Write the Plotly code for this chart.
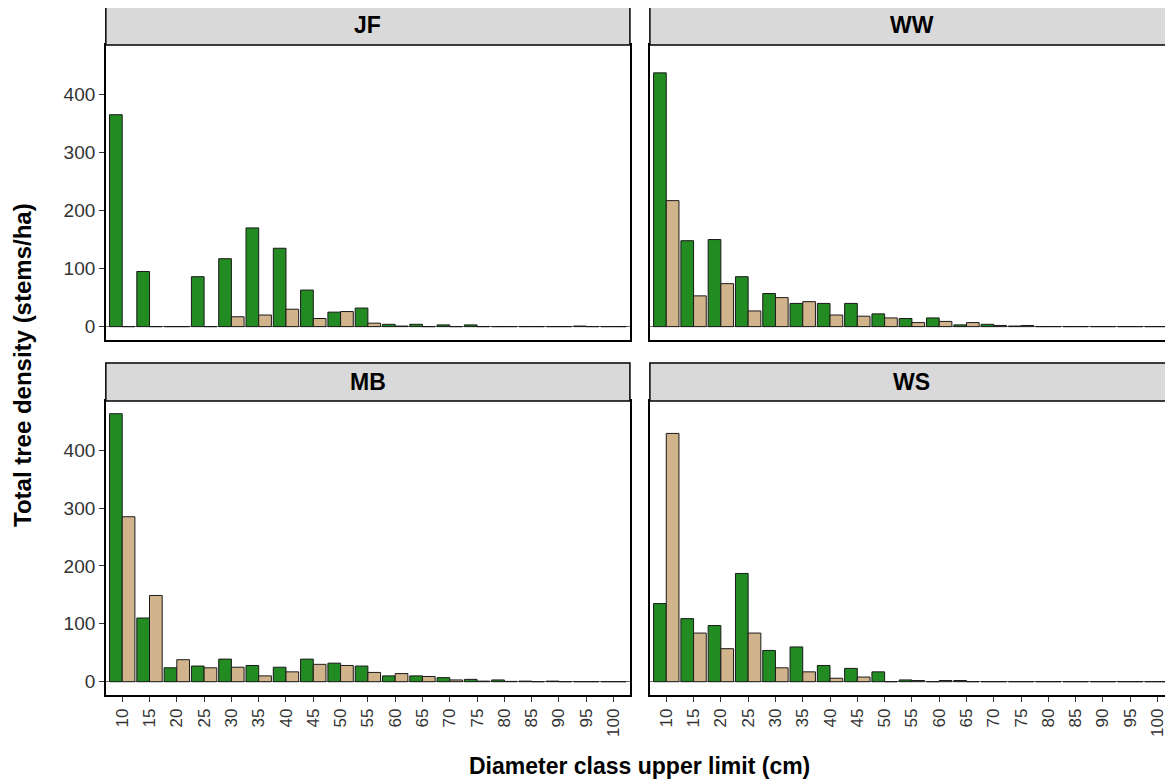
import plotly.graph_objects as go

# ---- data ----
classes = ["10", "15", "20", "25", "30", "35", "40", "45", "50", "55",
           "60", "65", "70", "75", "80", "85", "90", "95", "100"]
panels = ["JF", "WW", "MB", "WS"]

JF_green = [365, 95, 0, 86, 117, 170, 135, 63, 25, 32, 4, 4, 3, 3, 0, 0, 0, 1, 0]
JF_tan = [0, 0, 0, 0, 17, 20, 30, 14, 26, 6, 1, 0, 0, 0, 0, 0, 0, 0, 0]
WW_green = [437, 148, 150, 86, 57, 40, 40, 40, 22, 14, 15, 3, 4, 1, 0, 0, 0, 0, 0]
WW_tan = [217, 53, 74, 27, 50, 43, 20, 18, 15, 7, 9, 7, 2, 2, 0, 0, 0, 0, 0]
MB_green = [463, 110, 24, 27, 39, 28, 25, 39, 32, 27, 10, 10, 7, 4, 3, 1, 1, 0, 0]
MB_tan = [285, 149, 38, 24, 25, 10, 17, 30, 28, 16, 14, 9, 3, 1, 0.5, 0, 0, 0, 0]
WS_green = [135, 109, 97, 187, 54, 60, 28, 23, 17, 3, 0, 2, 0, 0, 0, 0, 0, 0, 0]
WS_tan = [429, 84, 57, 84, 24, 17, 6, 8, 0, 2, 2, 0, 0, 0, 0, 0, 0, 0, 0]

y_ticks = [0, 100, 200, 300, 400]
x_title = "Diameter class upper limit (cm)"
y_title = "Total tree density (stems/ha)"

series = {
    "JF": (JF_green, JF_tan),
    "WW": (WW_green, WW_tan),
    "MB": (MB_green, MB_tan),
    "WS": (WS_green, WS_tan),
}

GREEN = "#228B22"
TAN = "#D2B48C"
FONT = "Liberation Sans, Arial, sans-serif"
OFF = 8                      # page body margin
W, H = 1173 - OFF, 782 - OFF

# panel geometry in window pixels
col_x = [(106, 631), (651, 1173)]
row_y = [(45, 340), (401, 695)]     # plot area top/bottom
strip_y = [(6, 45), (363, 401)]

def px_x(v):
    return (v - OFF) / W

def px_y(v):
    return 1 - (v - OFF) / H

fig = go.Figure()
shapes = []
annotations = []

for k, name in enumerate(panels):
    r, c = divmod(k, 2)
    ax = "" if k == 0 else str(k + 1)
    g, t = series[name]
    fig.add_trace(go.Bar(x=classes, y=g, name="Series 1", marker=dict(color=GREEN, line=dict(color="#1a1a1a", width=1)),
                         xaxis="x" + ax, yaxis="y" + ax, showlegend=False))
    fig.add_trace(go.Bar(x=classes, y=t, name="Series 2", marker=dict(color=TAN, line=dict(color="#1a1a1a", width=1)),
                         xaxis="x" + ax, yaxis="y" + ax, showlegend=False))

    x0, x1 = col_x[c]
    yt, yb = row_y[r]
    xr = [-0.6, 18.6] if c == 0 else [-0.6, -0.6 + (x1 - x0) / 27.34]
    bottom = r == 1
    left = c == 0
    fig.layout["xaxis" + ax] = dict(
        domain=[px_x(x0), min(1.0, px_x(x1))], anchor="y" + ax, range=xr, type="category",
        categoryorder="array", categoryarray=classes,
        showline=True, mirror=True, linecolor="black", linewidth=1.5,
        ticks="outside" if bottom else "", ticklen=5, tickcolor="#333333", tickwidth=1.2,
        showticklabels=bottom, tickangle=-90,
        tickfont=dict(family=FONT, size=17, color="#333333"),
        showgrid=False, zeroline=False,
    )
    fig.layout["yaxis" + ax] = dict(
        domain=[px_y(yb), px_y(yt)], anchor="x" + ax, range=[-23, 485],
        tickvals=y_ticks, ticktext=[str(v) for v in y_ticks],
        showline=True, mirror=True, linecolor="black", linewidth=1.5,
        ticks="outside" if left else "", ticklen=5, tickcolor="#333333", tickwidth=1.2,
        showticklabels=left,
        tickfont=dict(family=FONT, size=19, color="#333333"),
        showgrid=False, zeroline=True, zerolinecolor="#6e6e6e", zerolinewidth=1,
    )
    # strip
    sy0, sy1 = strip_y[r]
    shapes.append(dict(type="rect", xref="paper", yref="paper",
                       x0=px_x(x0), x1=min(1.0, px_x(x1)), y0=px_y(sy1), y1=px_y(sy0),
                       fillcolor="#D9D9D9", line=dict(color="black", width=1.5), layer="above"))
    annotations.append(dict(text="<b>%s</b>" % name, xref="paper", yref="paper",
                            x=px_x((x0 + x0 + 525) / 2), y=px_y((sy0 + sy1) / 2),
                            showarrow=False, xanchor="center", yanchor="middle",
                            font=dict(family=FONT, size=23, color="black")))

annotations.append(dict(text="<b>%s</b>" % x_title, xref="paper", yref="paper",
                        x=px_x(641), y=px_y(766), showarrow=False, xanchor="center", yanchor="middle",
                        font=dict(family=FONT, size=23, color="black")))
annotations.append(dict(text="<b>%s</b>" % y_title, xref="paper", yref="paper",
                        x=px_x(23), y=px_y(365), showarrow=False, xanchor="center", yanchor="middle",
                        textangle=-90, font=dict(family=FONT, size=24, color="black")))

fig.update_layout(
    width=W, height=H, margin=dict(l=0, r=0, t=0, b=0),
    paper_bgcolor="white", plot_bgcolor="white",
    barmode="group", bargap=0.07, bargroupgap=0,
    shapes=shapes, annotations=annotations,
    font=dict(family=FONT),
)

fig.write_html("out.html")
